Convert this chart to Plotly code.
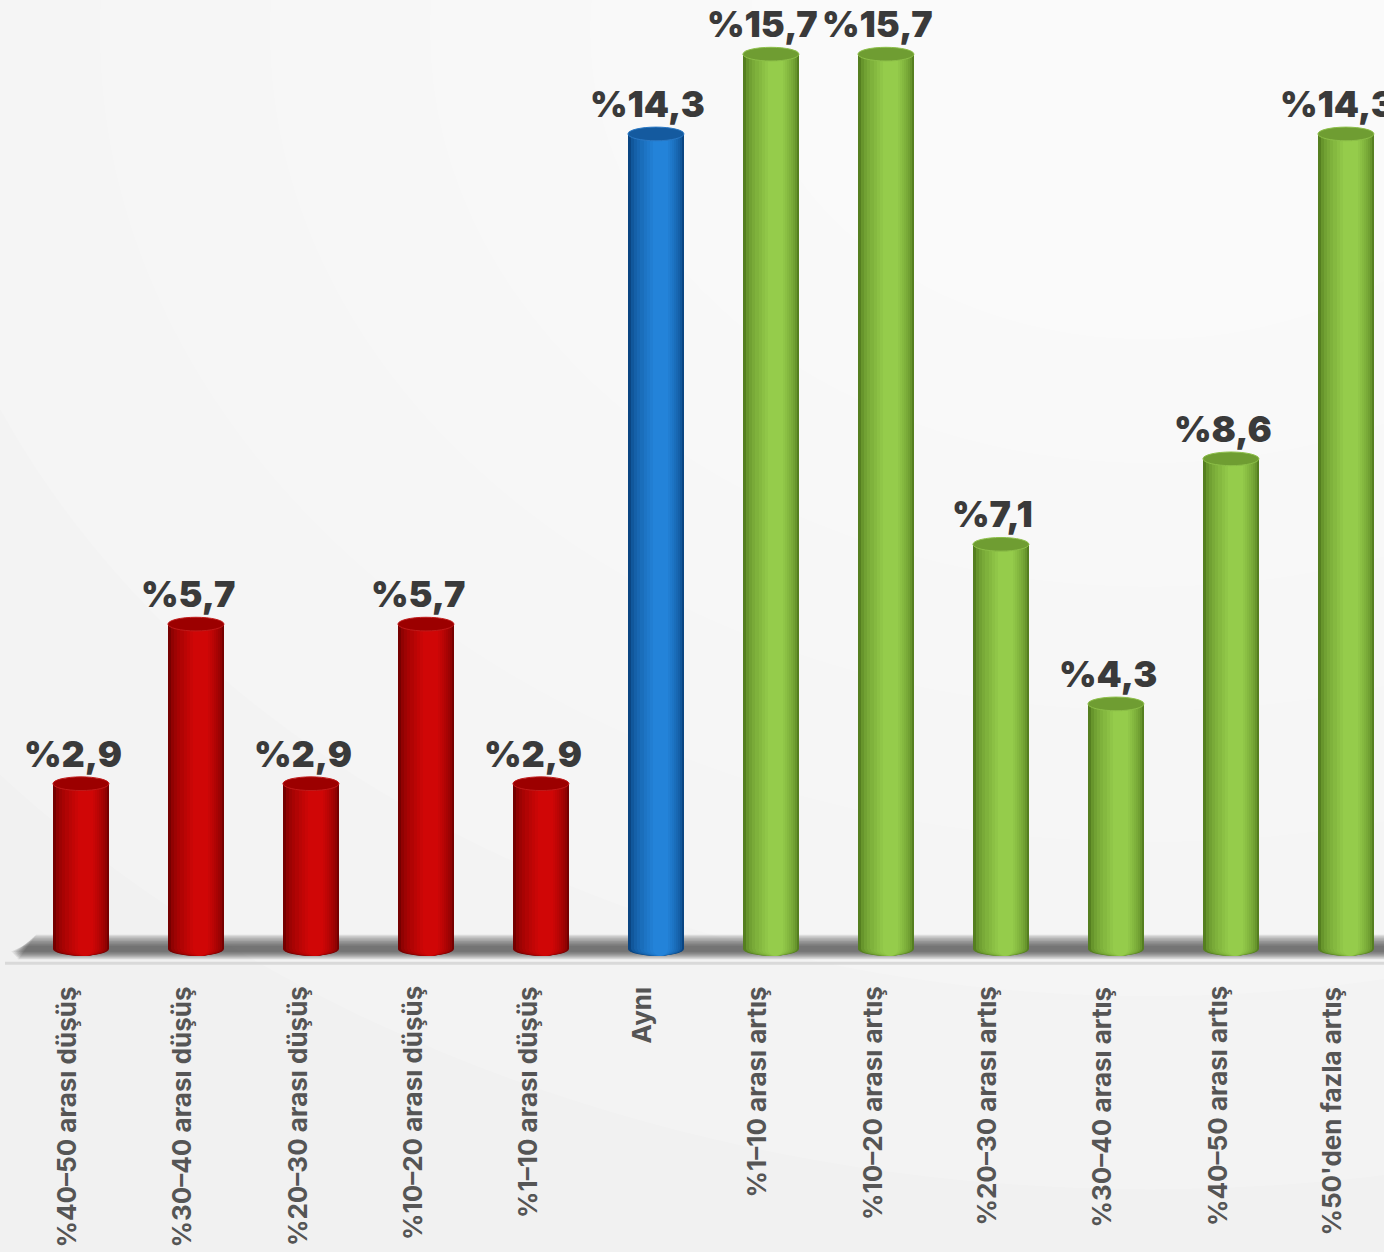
import plotly.graph_objects as go

# ---------------- data ----------------
categories = [
    "%40–50 arası düşüş", "%30–40 arası düşüş", "%20–30 arası düşüş",
    "%10–20 arası düşüş", "%1–10 arası düşüş", "Aynı",
    "%1–10 arası artış", "%10–20 arası artış", "%20–30 arası artış",
    "%30–40 arası artış", "%40–50 arası artış", "%50'den fazla artış",
]
values = [2.9, 5.7, 2.9, 5.7, 2.9, 14.3, 15.7, 15.7, 7.1, 4.3, 8.6, 14.3]
groups = ["down"] * 5 + ["same"] + ["up"] * 6
value_labels = ["%" + f"{v:.1f}".replace(".", ",") for v in values]

# ---------------- style ----------------
W_PX, H_PX = 1384, 1252
palette = {
    "down": {"edge": "#760000", "hi": "#d00606", "cap": "#9c0000", "capline": "#c01a1a"},
    "same": {"edge": "#0a4582", "hi": "#2383d9", "cap": "#145a9f", "capline": "#2a78c4"},
    "up":   {"edge": "#557f20", "hi": "#95cc4b", "cap": "#6f9d32", "capline": "#8cbf48"},
}


def hex2rgb(h):
    h = h.lstrip("#")
    return tuple(int(h[i:i + 2], 16) for i in (0, 2, 4))


def mix(c1, c2, t):
    a, b = hex2rgb(c1), hex2rgb(c2)
    return "#%02x%02x%02x" % tuple(round(a[i] + (b[i] - a[i]) * t) for i in range(3))


xs = list(range(len(categories)))
BAR_W = 0.487
RY = 0.12          # half-height of ellipses in data units
N_LAYERS = 9

fig = go.Figure()
shapes = []

# background radial glow
bg_cx, bg_cy = 1150, 40
for r in [1500, 1250, 1050, 880, 720, 560, 400]:
    shapes.append(dict(
        type="circle", xref="paper", yref="paper", layer="below",
        x0=(bg_cx - r) / W_PX, x1=(bg_cx + r) / W_PX,
        y0=1 - (bg_cy + r) / H_PX, y1=1 - (bg_cy - r) / H_PX,
        fillcolor="rgba(255,255,255,0.16)", line=dict(width=0),
    ))

# floor shadow (layered to look blurred)
for k in range(8):
    f = 1 - k / 8
    top = 0.03 + 0.22 * f
    bot = -0.03 - 0.15 * f
    lx_top = (22 + 14 * f) / W_PX
    lx_bot = (10 + 8 * f) / W_PX
    shapes.append(dict(
        type="path", xref="paper", yref="y", layer="below",
        path=f"M {lx_top},{top} L 1.02,{top} L 1.02,{bot} L {lx_bot},{bot} Z",
        fillcolor="rgba(50,50,50,0.12)", line=dict(width=0),
    ))

# floor line
shapes.append(dict(
    type="line", xref="paper", yref="y", layer="below",
    x0=5 / W_PX, x1=1.02, y0=-0.25, y1=-0.25,
    line=dict(color="#d9d9d9", width=3),
))

# cylinder bodies: overlaid bars with narrowing widths for shading
for k in range(N_LAYERS):
    t = k / (N_LAYERS - 1)
    wk = BAR_W * (1 - 0.82 * k / N_LAYERS)
    shift = 0.09 * BAR_W * k / N_LAYERS
    ease = t ** 0.6
    colors = [mix(palette[g]["edge"], palette[g]["hi"], ease) for g in groups]
    fig.add_trace(go.Bar(
        x=xs, y=values, width=wk, offset=-wk / 2 + shift,
        marker=dict(color=colors, line=dict(width=0)),
        hoverinfo="skip" if k else "x+y", showlegend=False,
    ))
    # bottom rounded edge for this layer
    for i, g in zip(xs, groups):
        shapes.append(dict(
            type="circle", xref="x", yref="y", layer="below",
            x0=i + shift - wk / 2, x1=i + shift + wk / 2, y0=-RY, y1=RY,
            fillcolor=colors[i], line=dict(width=0),
        ))

# top caps
for i, (v, g) in enumerate(zip(values, groups)):
    shapes.append(dict(
        type="circle", xref="x", yref="y", layer="above",
        x0=i - BAR_W / 2, x1=i + BAR_W / 2, y0=v - RY, y1=v + RY,
        fillcolor=palette[g]["cap"], line=dict(color=palette[g]["capline"], width=1),
    ))

annotations = []
# value labels
for i, (v, lab) in enumerate(zip(values, value_labels)):
    annotations.append(dict(
        x=i, y=v, xref="x", yref="y", text=lab, showarrow=False,
        xanchor="center", yanchor="bottom", xshift=-8, yshift=6,
        font=dict(family="Inter, Lato, sans-serif", size=36, color="#3a3a3a", weight=900),
    ))
# category labels (rotated)
for i, cat in enumerate(categories):
    annotations.append(dict(
        x=i, y=0, xref="x", yref="paper", text=cat, showarrow=False,
        textangle=-90, xanchor="center", yanchor="top", xshift=-14, yshift=-17,
        font=dict(family="Inter, Lato, sans-serif", size=26, color="#555555", weight=700),
    ))

fig.update_layout(
    width=W_PX, height=H_PX,
    margin=dict(l=0, r=0, t=0, b=285, pad=0),
    paper_bgcolor="#f1f1f1", plot_bgcolor="rgba(0,0,0,0)",
    barmode="overlay", bargap=0,
    shapes=shapes, annotations=annotations,
    xaxis=dict(range=[-0.704, 11.331], showgrid=False, zeroline=False,
               showticklabels=False, showline=False, fixedrange=True),
    yaxis=dict(range=[-0.316, 16.65], showgrid=False, zeroline=False,
               showticklabels=False, showline=False, fixedrange=True),
    showlegend=False,
)

fig.write_html("out.html", config={"displayModeBar": False},
               post_script="document.body.style.margin='0';document.body.style.overflow='hidden';")
